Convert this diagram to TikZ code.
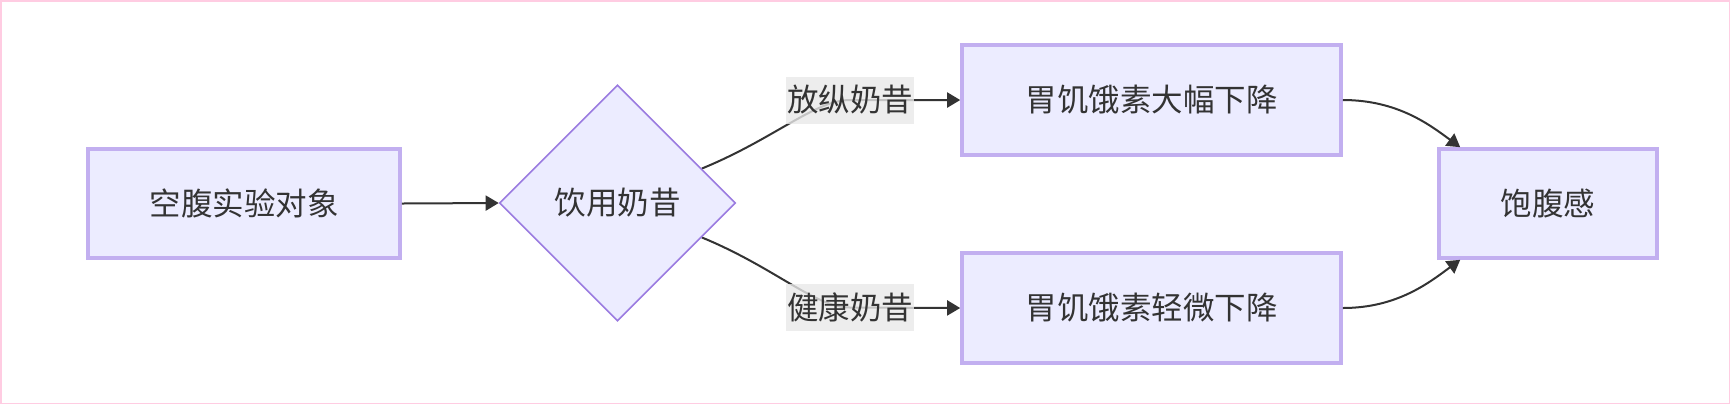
\documentclass[tikz,border=0pt]{standalone}
\usepackage{fontspec}
\setmainfont{Noto Sans CJK SC}
\usetikzlibrary{shapes.geometric,arrows.meta,calc,backgrounds}
\definecolor{nodefill}{HTML}{ECECFF}
\definecolor{nodeline}{HTML}{C2AFF0}
\definecolor{dialine}{HTML}{9A7BE0}
\definecolor{txt}{HTML}{333333}
\definecolor{lblbg}{HTML}{E8E8E8}
\definecolor{framecol}{HTML}{FFCCE2}
\begin{document}
\begin{tikzpicture}[x=0.5pt,y=-0.5pt,
  every node/.style={font=\fontsize{15.75pt}{18pt}\selectfont, text=txt},
  box/.style={rectangle, draw=nodeline, fill=nodefill, line width=1.8pt, inner sep=0pt},
  dia/.style={diamond, aspect=1, draw=dialine, fill=nodefill, line width=0.8pt, inner sep=0pt, minimum width=118pt, minimum height=118pt},
  elabel/.style={rectangle, fill=lblbg, fill opacity=0.8, text opacity=1, inner sep=0pt, minimum width=64pt, minimum height=23.5pt},
  edge/.style={draw=txt, line width=1pt},
  arr/.style={-{Triangle[length=6.5pt,width=7.5pt]}}
]
\useasboundingbox (0,0) rectangle (1730,404);
\draw[framecol, line width=0.75pt] (0.75,0.75) rectangle (1729.25,403.25);

\node[box, minimum width=156pt, minimum height=54.5pt] (a) at (244,203.5) {空腹实验对象};
\node[dia] (b) at (617.5,203) {饮用奶昔};
\node[box, minimum width=189.5pt, minimum height=55pt] (c) at (1151.5,100) {胃饥饿素大幅下降};
\node[box, minimum width=189.5pt, minimum height=55pt] (d) at (1151.5,308) {胃饥饿素轻微下降};
\node[box, minimum width=109pt, minimum height=54.5pt] (e) at (1548,203.5) {饱腹感};

\node[elabel] (l1) at (850,100) {放纵奶昔};
\node[elabel] (l2) at (850,307.5) {健康奶昔};

\coordinate (s1) at ($(b.north)!0.71!(b.east)$);
\coordinate (s2) at ($(b.south)!0.71!(b.east)$);
\coordinate (e1) at ($(e.north west)+(23,0)$);
\coordinate (e2) at ($(e.south west)+(23,0)$);

\draw[edge,arr] (a.east) -- (b.west);

\begin{scope}[on background layer]
\draw[edge,arr] (s1) .. controls +(73,-30) and (815,100) .. (l1.center) -- (c.west);
\draw[edge,arr] (s2) .. controls +(73,30) and (815,307.5) .. (l2.center) -- (d.west);
\end{scope}

\draw[edge,arr] (c.east) .. controls +(55,0) and +(-30,-22) .. (e1);
\draw[edge,arr] (d.east) .. controls +(55,0) and +(-30,22) .. (e2);
\end{tikzpicture}
\end{document}
